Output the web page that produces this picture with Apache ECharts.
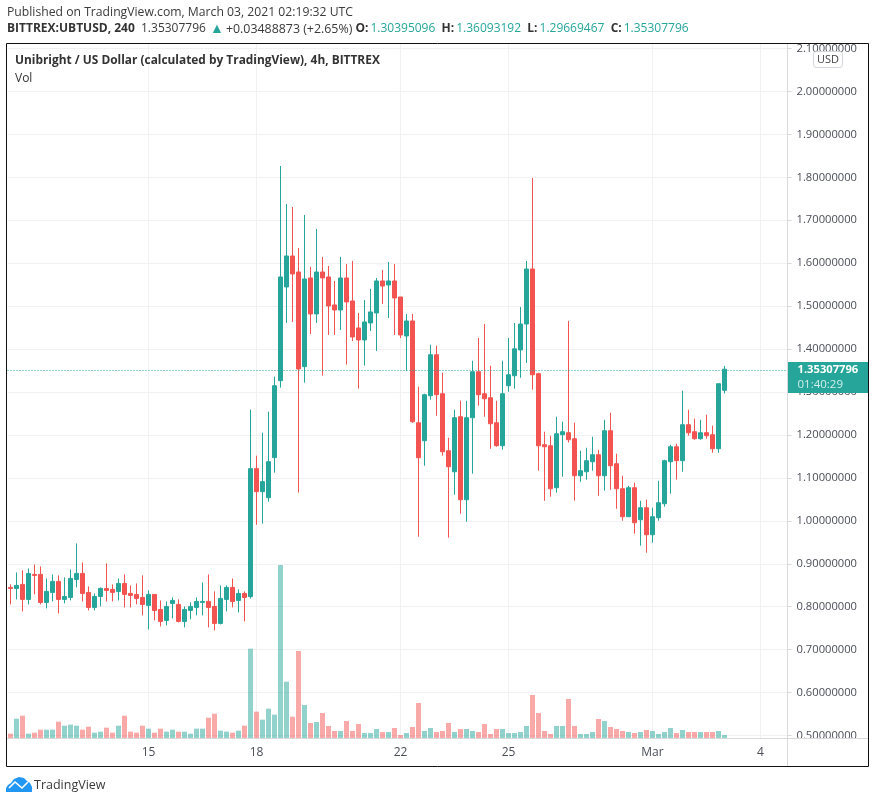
<!DOCTYPE html>
<html>
<head>
<meta charset="utf-8">
<title>UBTUSD</title>
<script src="https://cdn.jsdelivr.net/npm/echarts@6/dist/echarts.min.js"></script>
<style>
  html, body { margin: 0; padding: 0; background: #fff; }
  #chartsDiv { width: 876px; height: 803px; }
</style>
</head>
<body>
<div id="chartsDiv"></div>
<script>
var tickIndex = [23, 41, 65, 83, 107, 125];
var tickText = ['15', '18', '22', '25', 'Mar', '4'];
var barSlots = 130;

var opens = [
  .8449, .8425, .8519, .8169, .8752, .8752, .8099, .8332, .8589, .8169,
  .8216, .8635, .8775, .8332, .7983, .8239, .8425, .8402, .8356, .8542,
  .8309, .8286, .8216, .8030, .8286, .7936, .7680, .8076, .8053, .7657,
  .7913, .7983, .8099, .8123, .8006, .7610, .8169, .8449, .8146, .8309,
  .8234, 1.1215, 1.0679, 1.0539, 1.1471, 1.3264, 1.5446, 1.6168, 1.5795, 1.359,
  1.5656, 1.4817, 1.5795, 1.5679, 1.5027, 1.491, 1.5656, 1.512, 1.4491, 1.4212,
  1.4608, 1.4841, 1.5586, 1.5493, 1.5586, 1.5213, 1.4305, 1.4654, 1.2284, 1.1865,
  1.2913, 1.3868, 1.296, 1.1632, 1.1143, 1.2424, 1.0491, 1.2401, 1.3472, 1.296,
  1.2867, 1.2284, 1.1749, 1.3146, 1.3379, 1.3979, 1.4584, 1.5865, 1.3426, 1.1772,
  1.1749, 1.0771, 1.2005, 1.2052, 1.1912, 1.105, 1.1143, 1.1376, 1.1539, 1.105,
  1.2098, 1.133, 1.0747, 1.0095, 1.0771, 1.0025, 1.0305, .9676, 1.0072, 1.0398,
  1.1376, 1.1725, 1.14, 1.2238, 1.2075, 1.1912, 1.2052, 1.2005, 1.1679, 1.3039
];
var closes = [
  .8425, .8495, .8169, .8775, .8728, .8099, .8356, .8589, .8169, .8239,
  .8658, .8775, .8309, .7983, .8239, .8425, .8379, .8332, .8542, .8286,
  .8262, .8193, .8053, .8286, .7913, .7657, .8006, .8146, .7657, .7936,
  .8006, .8123, .8123, .7983, .7610, .8193, .8449, .8123, .8309, .8216,
  1.1215, 1.0679, 1.0912, 1.1378, 1.3147, 1.5679, 1.6168, 1.5749, 1.3536, 1.5632,
  1.4817, 1.5795, 1.5656, 1.5004, 1.491, 1.5656, 1.5097, 1.4282, 1.4212, 1.4631,
  1.4864, 1.5586, 1.5469, 1.5586, 1.519, 1.4328, 1.4654, 1.2308, 1.1469, 1.2937,
  1.3868, 1.2937, 1.1609, 1.126, 1.2401, 1.0491, 1.2401, 1.3472, 1.2937, 1.2843,
  1.2261, 1.1749, 1.296, 1.3402, 1.4005, 1.4584, 1.5865, 1.3402, 1.1749, 1.1725,
  1.0747, 1.2028, 1.2075, 1.1889, 1.105, 1.1167, 1.14, 1.1539, 1.105, 1.2098,
  1.1283, 1.0747, 1.0095, 1.0771, .9956, 1.0305, .9676, 1.0095, 1.0421, 1.14,
  1.1725, 1.14, 1.2238, 1.2052, 1.1912, 1.2052, 1.1982, 1.1679, 1.3193, 1.3531
];
var lows = [
  .8053, .8169, .7890, .8053, .8286, .8053, .7960, .8123, .7843, .8076,
  .8146, .8449, .8123, .7913, .7913, .8006, .8123, .8123, .8146, .7983,
  .7983, .8053, .7797, .7470, .7680, .7540, .7564, .7727, .7634, .7517,
  .7703, .7797, .7797, .7517, .7447, .7587, .7890, .7983, .7866, .7657,
  .8187, .991, .9934, 1.0446, 1.1121, 1.3101, 1.4608, 1.4631, 1.0656, 1.3217,
  1.4352, 1.4608, 1.338, 1.4328, 1.4328, 1.4445, 1.3637, 1.4188, 1.3078, 1.3613,
  1.4421, 1.3956, 1.505, 1.4724, 1.4328, 1.4258, 1.3497, 1.2284, .963, 1.1283,
  1.282, 1.2447, 1.1516, .9606, 1.0608, 1.0165, .9979, 1.1097, 1.268, 1.2424,
  1.1679, 1.1725, 1.1656, 1.3006, 1.3076, 1.3332, 1.3676, 1.3053, 1.1167, 1.0468,
  1.0561, 1.0654, 1.1027, 1.1826, 1.0468, 1.091, 1.0957, 1.1167, 1.0584, 1.0701,
  1.0724, 1.0282, 1.0002, 1.0095, .9699, .942, .9257, .949, 1.0002, 1.0328,
  1.0631, 1.0957, 1.1143, 1.1982, 1.1889, 1.1889, 1.1912, 1.1586, 1.1586, 1.2967
];
var highs = [
  .8519, .8798, .8845, .8891, .8984, .8938, .8658, .8752, .8728, .8682,
  .8868, .9474, .9031, .8472, .8309, .8449, .9008, .8519, .8658, .8752,
  .8495, .8542, .8728, .8379, .8286, .8146, .8123, .8216, .8169, .8006,
  .8099, .8216, .8565, .8752, .8356, .8495, .8495, .8658, .8402, .8356,
  1.259, 1.1517, 1.2053, 1.2542, 1.3357, 1.8264, 1.7379, 1.7309, 1.6354, 1.7123,
  1.5912, 1.6797, 1.6145, 1.5935, 1.5586, 1.6145, 1.5982, 1.6052, 1.4841, 1.5143,
  1.54, 1.5656, 1.5842, 1.6028, 1.5982, 1.5213, 1.4817, 1.4817, 1.3123, 1.296,
  1.4101, 1.4078, 1.3449, 1.1935, 1.2587, 1.2797, 1.2797, 1.3728, 1.4258, 1.4584,
  1.3612, 1.2797, 1.3728, 1.4258, 1.4608, 1.498, 1.6052, 1.7984, 1.3449, 1.2075,
  1.1982, 1.2424, 1.2308, 1.4654, 1.2284, 1.1632, 1.1702, 1.1958, 1.1656, 1.2354,
  1.2517, 1.1563, 1.105, 1.0817, 1.0887, 1.0468, 1.0491, 1.0305, 1.0934, 1.1423,
  1.1772, 1.1795, 1.303, 1.2587, 1.2378, 1.2354, 1.2471, 1.2215, 1.3193, 1.3609
];
var volumes = [
  13, 58, 67, 13, 16, 25, 25, 25, 49, 37,
  40, 37, 25, 34, 16, 19, 31, 16, 37, 67,
  19, 16, 37, 28, 16, 28, 19, 25, 19, 19,
  13, 28, 28, 61, 73, 22, 19, 16, 22, 37,
  268, 79, 55, 88, 70, 519, 169, 64, 261, 99,
  45, 48, 75, 36, 21, 21, 51, 21, 42, 15,
  15, 27, 18, 18, 30, 9, 15, 33, 105, 21,
  30, 18, 21, 45, 18, 27, 27, 21, 18, 42,
  12, 27, 27, 15, 15, 18, 36, 129, 75, 21,
  12, 36, 36, 117, 36, 12, 12, 18, 57, 51,
  33, 27, 21, 18, 15, 18, 24, 21, 12, 18,
  30, 15, 24, 18, 18, 18, 18, 18, 21, 9
];
var lastPrice = 1.35307796;

var upColor = '#26a69a';
var downColor = '#f35451';
var textColor = '#4a4e57';
var uiFont = '"Open Sans", sans-serif';

var categories = [];
for (var i = 0; i < barSlots; i++) {
  var at = tickIndex.indexOf(i);
  categories.push(at >= 0 ? tickText[at] : '');
}
var isTick = function (index, value) {
  return value !== '';
};

var candleData = opens.map(function (o, i) {
  return [o, closes[i], lows[i], highs[i]];
});
var volumeData = volumes.map(function (v, i) {
  return {
    value: v,
    itemStyle: {
      color: closes[i] >= opens[i] ? 'rgba(38,166,154,0.5)' : 'rgba(243,84,81,0.5)'
    }
  };
});

var chart = echarts.init(document.getElementById('chartsDiv'));
var option = {
  animation: false,
  backgroundColor: '#fff',
  title: [{
    left: 7, top: 7, padding: 0,
    text: 'Published on TradingView.com, March 03, 2021 02:19:32 UTC',
    textStyle: { fontFamily: uiFont, fontSize: 12.2, fontWeight: 'normal', color: '#3a3a3a' }
  }, {
    left: 7, top: 22, padding: 0,
    text: '{b|BITTREX:UBTUSD, 240}  {n|1.35307796} {t|▲}{c|+0.03488873 (+2.65%)} {l|O:}{g|1.30395096}  {l|H:}{g|1.36093192}  {l|L:}{g|1.29669467}  {l|C:}{g|1.35307796}',
    textStyle: {
      fontFamily: uiFont,
      fontSize: 12,
      fontWeight: 'normal',
      rich: {
        b: { fontFamily: uiFont, fontSize: 12, fontWeight: 'bold', color: '#333' },
        l: { fontFamily: uiFont, fontSize: 12, fontWeight: 'bold', color: '#333', padding: [0, 2, 0, 0] },
        n: { fontFamily: uiFont, fontSize: 12, color: '#3a3a3a' },
        c: { fontFamily: uiFont, fontSize: 12.4, color: '#3a3a3a' },
        g: { fontFamily: uiFont, fontSize: 12, color: upColor },
        t: { fontFamily: uiFont, fontSize: 14, color: upColor, padding: [0, 2, 0, 1] }
      }
    }
  }, {
    left: 15, top: 55, padding: 0,
    text: 'Unibright / US Dollar (calculated by TradingView), 4h, BITTREX',
    textStyle: { fontFamily: uiFont, fontSize: 11.9, fontWeight: 'bold', color: '#333' }
  }, {
    left: 15, top: 73, padding: 0,
    text: 'Vol',
    textStyle: { fontFamily: uiFont, fontSize: 12, fontWeight: 'normal', color: '#333' }
  }],
  // half pixel offset keeps the 5px bodies centred on their 1px wicks
  grid: [
    { left: 7.5, right: 88.5, top: 48.5, height: 687 },
    { left: 7.5, right: 88.5, top: 44, height: 694 }
  ],
  xAxis: [{
    type: 'category',
    gridIndex: 0,
    data: categories,
    show: false
  }, {
    type: 'category',
    gridIndex: 1,
    data: categories,
    axisLine: { lineStyle: { color: '#d9d9d9' } },
    axisTick: { alignWithLabel: true, interval: isTick, length: 4, lineStyle: { color: '#d9d9d9' } },
    axisLabel: { interval: isTick, color: textColor, fontFamily: uiFont, fontSize: 12, margin: 9, hideOverlap: false },
    splitLine: { show: true, alignWithLabel: true, interval: isTick, lineStyle: { color: '#f1f1f3', width: 1 } }
  }],
  yAxis: [{
    type: 'value',
    gridIndex: 0,
    position: 'right',
    min: 0.5,
    max: 2.1,
    interval: 0.1,
    axisLine: { show: false },
    axisTick: { show: true, length: 4, lineStyle: { color: '#d9d9d9' } },
    axisLabel: {
      color: textColor,
      fontFamily: uiFont,
      fontSize: 11.2,
      margin: 9,
      formatter: function (value) {
        return value.toFixed(8);
      }
    },
    splitLine: { lineStyle: { color: '#f1f1f3', width: 1 } }
  }, {
    type: 'value',
    gridIndex: 1,
    min: 0,
    max: 2082,
    show: false
  }],
  series: [{
    type: 'bar',
    name: 'Vol',
    xAxisIndex: 1,
    yAxisIndex: 1,
    barWidth: 5,
    data: volumeData
  }, {
    type: 'candlestick',
    name: 'UBTUSD',
    xAxisIndex: 0,
    yAxisIndex: 0,
    barWidth: 4,
    itemStyle: {
      color: upColor,
      color0: downColor,
      borderColor: upColor,
      borderColor0: downColor,
      borderWidth: 1
    },
    data: candleData,
    markLine: {
      silent: true,
      symbol: 'none',
      animation: false,
      lineStyle: { color: upColor, type: [1, 2], width: 1 },
      label: {
        show: true,
        position: 'end',
        distance: 0,
        offset: [0, 7],
        width: 81,
        height: 31,
        backgroundColor: upColor,
        formatter: '{p|' + lastPrice.toFixed(8) + '}\n{t|01:40:29}',
        rich: {
          p: { fontFamily: uiFont, fontSize: 11.2, fontWeight: 'bold', color: '#fff', padding: [0, 0, 0, 10], lineHeight: 15 },
          t: { fontFamily: uiFont, fontSize: 11.5, color: '#d4eeeb', padding: [0, 0, 0, 10], lineHeight: 15 }
        }
      },
      data: [{ yAxis: lastPrice }]
    }
  }],
  graphic: [
    // cut off the top and bottom scale labels, like the price pane does
    { type: 'rect', z: 50, shape: { x: 788, y: 34, width: 81, height: 9 }, style: { fill: '#fff' } },
    { type: 'rect', z: 50, shape: { x: 788, y: 738, width: 80, height: 28 }, style: { fill: '#fff' } },
    { type: 'line', z: 51, shape: { x1: 787.5, y1: 43, x2: 787.5, y2: 767 }, style: { stroke: '#d9d9d9', lineWidth: 1 } },
    { type: 'line', z: 51, shape: { x1: 788, y1: 738.5, x2: 868, y2: 738.5 }, style: { stroke: '#d9d9d9', lineWidth: 1 } },
    { type: 'rect', z: 52, shape: { x: 6.5, y: 43.5, width: 862, height: 723 }, style: { fill: 'none', stroke: '#111', lineWidth: 1 } },
    { type: 'rect', z: 53, shape: { x: 813.5, y: 51.5, width: 29, height: 16, r: 3 }, style: { fill: '#fff', stroke: '#d3d5dc', lineWidth: 1 } },
    { type: 'text', z: 54, x: 828, y: 59.5, style: { text: 'USD', fill: '#444', font: '11px "Open Sans"', textAlign: 'center', textVerticalAlign: 'middle' } },
    // TradingView logo
    { type: 'polygon', z: 54, shape: { points: [[6, 792], [6, 788], [8, 785], [11, 783], [14, 779], [19, 777], [24, 778], [27, 781], [30, 783], [32, 787], [32, 792]] }, style: { fill: '#2196f3' } },
    { type: 'polyline', z: 55, shape: { points: [[9, 788], [15, 782], [22, 788], [28, 782]] }, style: { fill: 'none', stroke: '#fff', lineWidth: 1.6 } },
    { type: 'text', z: 54, x: 34, y: 785, style: { text: 'TradingView', fill: '#3a3a3a', font: '12.5px "Open Sans"', textAlign: 'left', textVerticalAlign: 'middle' } }
  ]
};
chart.setOption(option);
</script>
</body>
</html>
